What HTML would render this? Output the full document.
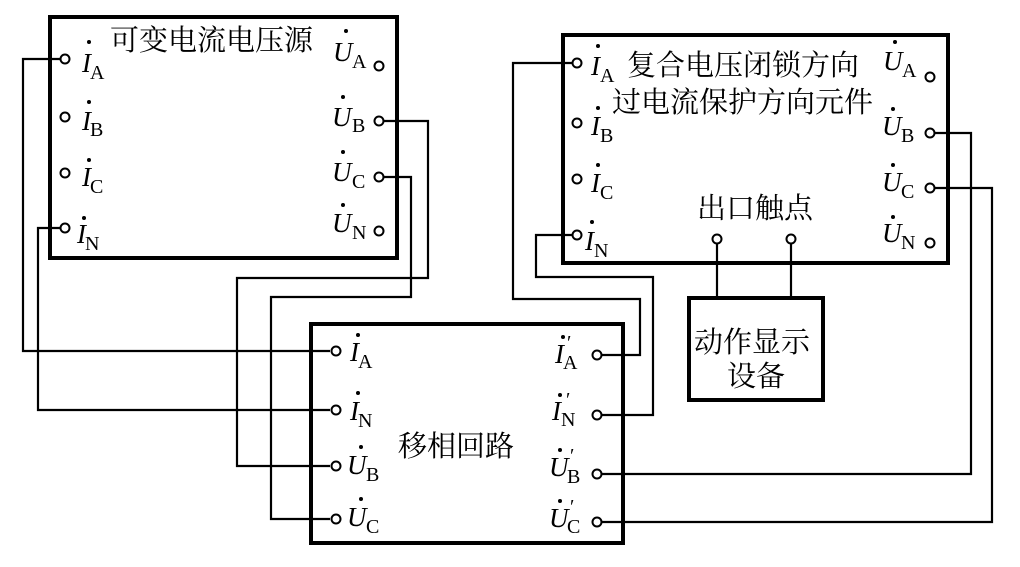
<!DOCTYPE html>
<html><head><meta charset="utf-8"><style>
html,body{margin:0;padding:0;background:#fff;}
svg{display:block;}
.l{font-family:"Liberation Serif",serif;font-style:italic;font-size:27px;fill:#000;}
.s{font-family:"Liberation Serif",serif;font-size:20px;fill:#000;}
.c{font-family:"Liberation Serif","Noto Serif CJK SC",serif;font-size:29px;fill:#000;}
</style></head><body>
<svg width="1020" height="567" viewBox="0 0 1020 567" xmlns="http://www.w3.org/2000/svg">
<g fill="none" stroke="#000" stroke-width="2.2">
<!-- wires -->
<polyline points="61,59 23,59 23,351 330,351"/>
<polyline points="61,228 38,228 38,410 330,410"/>
<polyline points="383,121 428,121 428,278 237,278 237,466 330,466"/>
<polyline points="383,177 411,177 411,297 271,297 271,519 330,519"/>
<polyline points="573,63 513,63 513,299 640,299 640,355 601,355"/>
<polyline points="573,235 536,235 536,277 653,277 653,415 601,415"/>
<polyline points="934,133 971,133 971,474 601,474"/>
<polyline points="934,188 992,188 992,522 601,522"/>
<line x1="717" y1="242" x2="717" y2="298"/>
<line x1="791" y1="242" x2="791" y2="298"/>
</g>
<g fill="none" stroke="#000" stroke-width="4">
<rect x="50" y="17" width="347" height="241"/>
<rect x="563" y="35" width="385" height="228"/>
<rect x="311" y="324" width="312" height="219"/>
<rect x="689" y="298" width="134" height="102"/>
</g>
<g fill="#fff" stroke="#000" stroke-width="2">
<circle cx="65" cy="59" r="4.5"/><circle cx="65" cy="117" r="4.5"/><circle cx="65" cy="173" r="4.5"/><circle cx="65" cy="228" r="4.5"/>
<circle cx="379" cy="66" r="4.5"/><circle cx="379" cy="121" r="4.5"/><circle cx="379" cy="177" r="4.5"/><circle cx="379" cy="231" r="4.5"/>
<circle cx="577" cy="63" r="4.5"/><circle cx="577" cy="123" r="4.5"/><circle cx="577" cy="179" r="4.5"/><circle cx="577" cy="235" r="4.5"/>
<circle cx="930" cy="77" r="4.5"/><circle cx="930" cy="133" r="4.5"/><circle cx="930" cy="188" r="4.5"/><circle cx="930" cy="243" r="4.5"/>
<circle cx="717" cy="239" r="4.5"/><circle cx="791" cy="239" r="4.5"/>
<circle cx="336" cy="351" r="4.5"/><circle cx="336" cy="410" r="4.5"/><circle cx="336" cy="466" r="4.5"/><circle cx="336" cy="519" r="4.5"/>
<circle cx="597" cy="355" r="4.5"/><circle cx="597" cy="415" r="4.5"/><circle cx="597" cy="474" r="4.5"/><circle cx="597" cy="522" r="4.5"/>
</g>
<!-- dots -->
<g fill="#000">
<circle cx="89" cy="42" r="2"/><circle cx="89" cy="102" r="2"/><circle cx="89" cy="160" r="2"/><circle cx="84" cy="218" r="2"/>
<circle cx="346" cy="31" r="2"/><circle cx="343" cy="97" r="2"/><circle cx="343" cy="152" r="2"/><circle cx="343" cy="205" r="2"/>
<circle cx="598" cy="46" r="2"/><circle cx="598" cy="108" r="2"/><circle cx="598" cy="165" r="2"/><circle cx="592" cy="222" r="2"/>
<circle cx="895" cy="42" r="2"/><circle cx="893" cy="109" r="2"/><circle cx="893" cy="165" r="2"/><circle cx="893" cy="217" r="2"/>
<circle cx="358" cy="335" r="2"/><circle cx="358" cy="393" r="2"/><circle cx="361" cy="447" r="2"/><circle cx="361" cy="499" r="2"/>
<circle cx="563" cy="337" r="2"/><circle cx="560" cy="395" r="2"/><circle cx="560" cy="450" r="2"/><circle cx="560" cy="501" r="2"/>
</g>
<!-- box1 labels -->
<text class="l" x="82" y="72">I</text><text class="s" x="90" y="79">A</text>
<text class="l" x="82" y="130">I</text><text class="s" x="90" y="136">B</text>
<text class="l" x="82" y="186">I</text><text class="s" x="90" y="193">C</text>
<text class="l" x="77" y="243">I</text><text class="s" x="85" y="250">N</text>
<text class="l" x="333" y="61">U</text><text class="s" x="352" y="68">A</text>
<text class="l" x="332" y="126">U</text><text class="s" x="352" y="132">B</text>
<text class="l" x="332" y="181">U</text><text class="s" x="352" y="188">C</text>
<text class="l" x="332" y="232">U</text><text class="s" x="352" y="239">N</text>
<text class="c" x="110" y="50">可变电流电压源</text>
<!-- box2 labels -->
<text class="l" x="591" y="75">I</text><text class="s" x="600" y="82">A</text>
<text class="l" x="591" y="135">I</text><text class="s" x="600" y="142">B</text>
<text class="l" x="591" y="192">I</text><text class="s" x="600" y="199">C</text>
<text class="l" x="585" y="250">I</text><text class="s" x="594" y="257">N</text>
<text class="l" x="883" y="70">U</text><text class="s" x="902" y="77">A</text>
<text class="l" x="882" y="135">U</text><text class="s" x="901" y="142">B</text>
<text class="l" x="882" y="191">U</text><text class="s" x="901" y="198">C</text>
<text class="l" x="882" y="242">U</text><text class="s" x="901" y="249">N</text>
<text class="c" x="627" y="75">复合电压闭锁方向</text>
<text class="c" x="612" y="112">过电流保护方向元件</text>
<text class="c" x="697" y="218">出口触点</text>
<!-- box3 labels -->
<text class="l" x="350" y="361">I</text><text class="s" x="358" y="368">A</text>
<text class="l" x="350" y="420">I</text><text class="s" x="358" y="427">N</text>
<text class="l" x="347" y="474">U</text><text class="s" x="366" y="481">B</text>
<text class="l" x="347" y="526">U</text><text class="s" x="366" y="533">C</text>
<text class="c" x="398" y="456">移相回路</text>
<text class="l" x="555" y="363">I</text><text class="s" x="563" y="369">A</text><text class="s" x="567" y="349">′</text>
<text class="l" x="552" y="420">I</text><text class="s" x="561" y="426">N</text><text class="s" x="566" y="406">′</text>
<text class="l" x="549" y="476">U</text><text class="s" x="567" y="483">B</text><text class="s" x="570" y="462">′</text>
<text class="l" x="549" y="527">U</text><text class="s" x="567" y="533">C</text><text class="s" x="570" y="513">′</text>
<text class="c" x="694" y="352">动作显示</text>
<text class="c" x="727" y="386">设备</text>
</svg>
</body></html>
